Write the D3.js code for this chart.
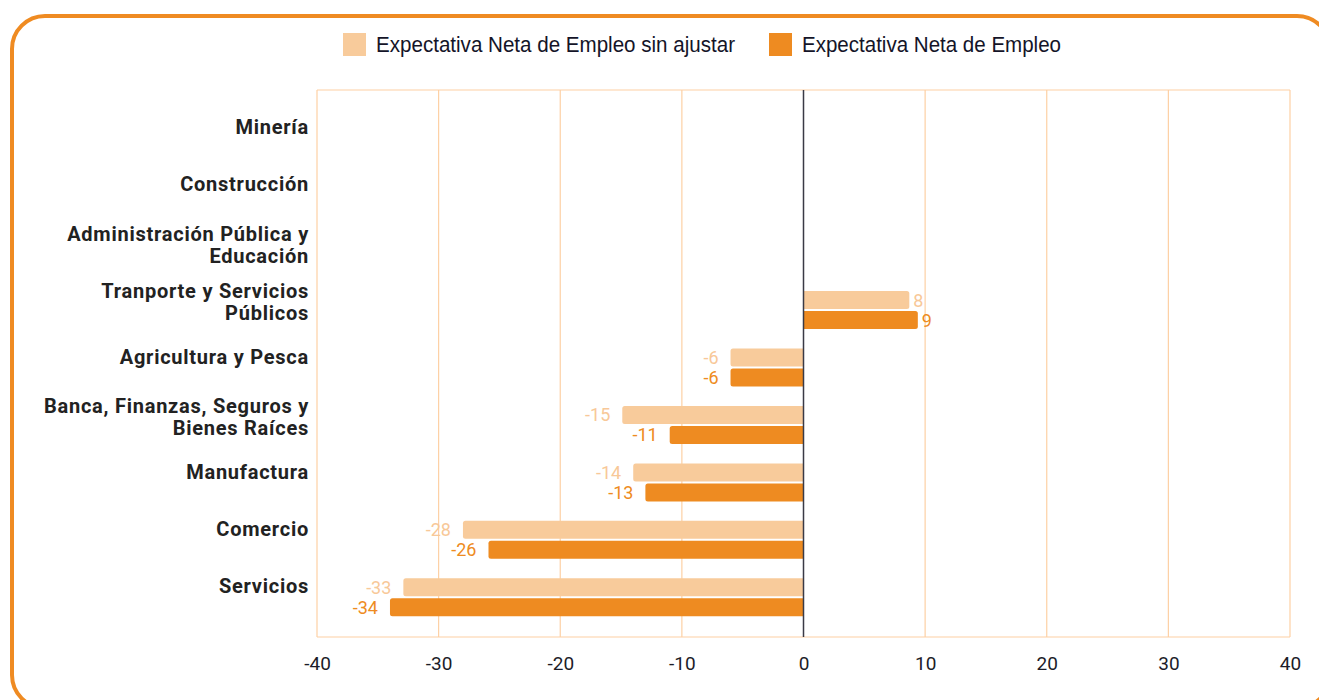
<!DOCTYPE html>
<html>
<head>
<meta charset="utf-8">
<script src="https://cdn.jsdelivr.net/npm/d3@7"></script>
<style>
  html, body { margin: 0; padding: 0; background: #fff; overflow: hidden; }
  svg { display: block; }
</style>
</head>
<body>
<svg id="chart" width="1319" height="700"></svg>
<script>
const categories = [
  ["Minería"],
  ["Construcción"],
  ["Administración Pública y", "Educación"],
  ["Tranporte y Servicios", "Públicos"],
  ["Agricultura y Pesca"],
  ["Banca, Finanzas, Seguros y", "Bienes Raíces"],
  ["Manufactura"],
  ["Comercio"],
  ["Servicios"]
];
const unadjusted = [null, null, null, 8.7, -6, -14.9, -14, -28, -32.9];
const adjusted   = [null, null, null, 9.4, -6, -11, -13, -25.9, -34];
const unadjustedLabels = ["", "", "", "8", "-6", "-15", "-14", "-28", "-33"];
const adjustedLabels   = ["", "", "", "9", "-6", "-11", "-13", "-26", "-34"];
const seriesNames = ["Expectativa Neta de Empleo sin ajustar", "Expectativa Neta de Empleo"];
const seriesColors = ["#f8cb9b", "#ee8b21"];
const xTicks = [-40, -30, -20, -10, 0, 10, 20, 30, 40];

const svg = d3.select("#chart");

// frame
svg.append("rect")
  .attr("x", 12).attr("y", 16).attr("width", 1318).attr("height", 692)
  .attr("rx", 33).attr("ry", 33)
  .attr("fill", "none").attr("stroke", "#ef8b22").attr("stroke-width", 4);

const plot = {left: 317, right: 1290, top: 90, bottom: 637};
const x = d3.scaleLinear().domain([-40, 40]).range([plot.left, plot.right]);
const y = d3.scaleBand().domain(d3.range(categories.length)).range([109, 626]);

// gridlines
svg.append("g").selectAll("line").data(xTicks.filter(t => t !== 0)).join("line")
  .attr("x1", d => x(d)).attr("x2", d => x(d))
  .attr("y1", plot.top).attr("y2", plot.bottom)
  .attr("stroke", "#fdd0a4").attr("stroke-width", 1.2);
svg.append("line")
  .attr("x1", plot.left).attr("x2", plot.right)
  .attr("y1", plot.top).attr("y2", plot.top)
  .attr("stroke", "#fdd0a4").attr("stroke-width", 1.2);
svg.append("line")
  .attr("x1", plot.left).attr("x2", plot.right)
  .attr("y1", plot.bottom).attr("y2", plot.bottom)
  .attr("stroke", "#fdd0a4").attr("stroke-width", 1.2);

// axis
const xAxis = d3.axisBottom(x).tickValues(xTicks).tickSize(0).tickPadding(0).tickFormat(d3.format("d"));
const ax = svg.append("g").attr("transform", `translate(0,${plot.bottom})`).call(xAxis);
ax.select(".domain").remove();
ax.selectAll("text")
  .attr("y", 33).attr("dy", null)
  .attr("font-family", "Roboto").attr("font-size", 19).attr("fill", "#1c1c28")
  .text(d => d < 0 ? "-" + Math.abs(d) : d);

// bars
const barH = 18, gap = 1;
const series = [unadjusted, adjusted];
const seriesLabels = [unadjustedLabels, adjustedLabels];
series.forEach((vals, si) => {
  const g = svg.append("g");
  const data = vals.map((v, i) => ({v, i, label: seriesLabels[si][i]})).filter(d => d.v !== null);
  const yTop = d => y(d.i) + y.bandwidth() / 2 + (si === 0 ? -barH - gap : gap);
  g.selectAll("path").data(data).join("path")
    .attr("d", d => {
      const x0 = x(0), x1 = x(d.v), t = yTop(d), r = 2.5;
      const s = d.v >= 0 ? -1 : 1;
      return `M${x0},${t}H${x1 + s * r}Q${x1},${t} ${x1},${t + r}V${t + barH - r}Q${x1},${t + barH} ${x1 + s * r},${t + barH}H${x0}Z`;
    })
    .attr("fill", seriesColors[si]);
  g.selectAll("text").data(data).join("text")
    .attr("x", d => d.v >= 0 ? x(d.v) + 4 : x(d.v) - 12)
    .attr("y", d => yTop(d) + barH / 2)
    .attr("dy", "0.36em")
    .attr("text-anchor", d => d.v >= 0 ? "start" : "end")
    .attr("font-family", "Roboto").attr("font-size", 18)
    .attr("fill", si === 0 ? "#f8c898" : "#ee8b21")
    .text(d => d.label);
});

// zero line
svg.append("line")
  .attr("x1", x(0)).attr("x2", x(0))
  .attr("y1", plot.top).attr("y2", plot.bottom)
  .attr("stroke", "#3a3a46").attr("stroke-width", 1.5);

// category labels
const lab = svg.append("g");
categories.forEach((lines, i) => {
  const cy = y(i) + y.bandwidth() / 2 - (lines.length > 1 ? 8 : 11);
  const t = lab.append("text")
    .attr("text-anchor", "end")
    .attr("font-family", "Roboto").attr("font-weight", "bold").attr("font-size", 20)
    .attr("letter-spacing", 0.75)
    .attr("fill", "#222");
  const lh = 22;
  lines.forEach((ln, k) => {
    t.append("tspan").attr("x", 309)
      .attr("y", cy + (k - (lines.length - 1) / 2) * lh)
      .attr("dy", "0.36em").text(ln);
  });
});

// legend
const legendItems = [
  {name: seriesNames[0], color: seriesColors[0], x: 343, w: 359},
  {name: seriesNames[1], color: seriesColors[1], x: 769, w: 259}
];
const lg = svg.append("g");
legendItems.forEach(it => {
  lg.append("rect").attr("x", it.x).attr("y", 33).attr("width", 23).attr("height", 23).attr("fill", it.color);
  lg.append("text").attr("x", it.x + 33).attr("y", 52)
    .attr("font-family", "Liberation Sans, Arial").attr("font-size", 21.5)
    .attr("textLength", it.w).attr("lengthAdjust", "spacingAndGlyphs")
    .attr("fill", "#141428").text(it.name);
});
</script>
</body>
</html>
